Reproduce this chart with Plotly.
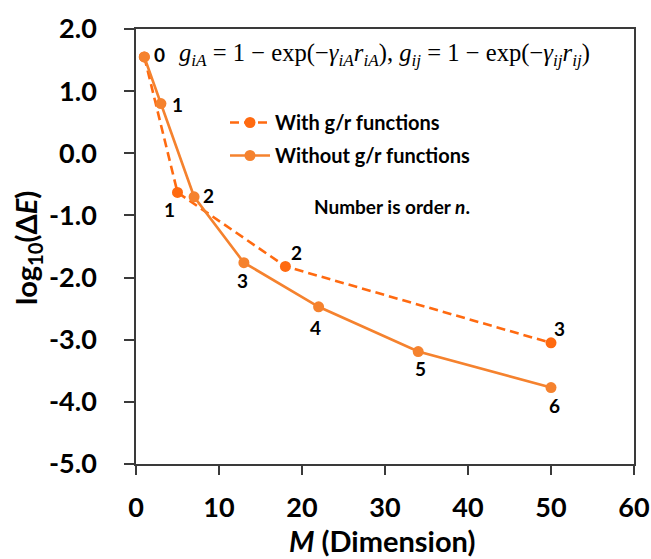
import plotly.graph_objects as go

# ---- data ----
m_with = [1, 5, 18, 50]
log_de_with = [1.55, -0.63, -1.82, -3.05]
order_with = ["0", "1", "2", "3"]

m_without = [1, 3, 7, 13, 22, 34, 50]
log_de_without = [1.55, 0.80, -0.70, -1.76, -2.47, -3.19, -3.77]
order_without = ["0", "1", "2", "3", "4", "5", "6"]

x_ticks = [0, 10, 20, 30, 40, 50, 60]
y_ticks = [2.0, 1.0, 0.0, -1.0, -2.0, -3.0, -4.0, -5.0]

# ---- styles ----
C_WITH = "#FF6A10"
C_WITHOUT = "#F5822E"
FONT = "Lato"
AX = "#3a3a3a"

fig = go.Figure()
fig.add_trace(go.Scatter(
    x=m_with, y=log_de_with, mode="lines+markers", name="With g/r functions",
    legendgroup="a",
    line=dict(color=C_WITH, width=2.6, dash="9px,5px"),
    marker=dict(color=C_WITH, size=11),
))
fig.add_trace(go.Scatter(
    x=m_without, y=log_de_without, mode="lines+markers", name="Without g/r functions",
    legendgroup="b",
    line=dict(color=C_WITHOUT, width=2.6),
    marker=dict(color=C_WITHOUT, size=11),
))

lab_font = dict(family=FONT, size=19, color="black", weight="bold")
ann = []
# offsets (px) for order labels
off_without = [(15, 2), (17, -1), (14, 1), (-1, -18), (-3, -21), (2, -17), (3, -18)]
off_with = [None, (-8, -17), (11, 14), (8, 14)]
for x, y, t, o in zip(m_without, log_de_without, order_without, off_without):
    ann.append(dict(x=x, y=y, xref="x", yref="y", text=t, showarrow=False,
                    xshift=o[0], yshift=o[1], font=lab_font))
for x, y, t, o in zip(m_with, log_de_with, order_with, off_with):
    if o is None:
        continue
    ann.append(dict(x=x, y=y, xref="x", yref="y", text=t, showarrow=False,
                    xshift=o[0], yshift=o[1], font=lab_font))

# plot area in page pixels: x 136..634, y 29..464
W, H = 651, 559
PX0, PX1, PY0, PY1 = 136.0, 634.0, 29.0, 464.0
def px(x):
    return (x - PX0) / (PX1 - PX0)
def py(y):
    return (PY1 - y) / (PY1 - PY0)

formula = ("<i>g</i><sub><i>iA</i></sub> = 1 − exp(−<i>γ</i><sub><i>iA</i></sub><i>r</i><sub><i>iA</i></sub>), "
           "<i>g</i><sub><i>ij</i></sub> = 1 − exp(−<i>γ</i><sub><i>ij</i></sub><i>r</i><sub><i>ij</i></sub>)")
ann.append(dict(x=px(177), y=py(55), xref="paper", yref="paper",
                xanchor="left", yanchor="middle",
                text=formula, showarrow=False,
                font=dict(family="Liberation Serif", size=24.6, color="black")))
ann.append(dict(x=px(312), y=py(207), xref="paper", yref="paper",
                xanchor="left", yanchor="middle",
                text="Number is order <i>n</i>.", showarrow=False,
                font=dict(family=FONT, size=19, color="black", weight="bold")))
# axis titles
ann.append(dict(x=px(381.5), y=py(540), xref="paper", yref="paper",
                xanchor="center", yanchor="middle", text="<i>M</i> (Dimension)", showarrow=False,
                font=dict(family=FONT, size=29, color="black", weight="bold")))
ann.append(dict(x=px(27), y=py(248), xref="paper", yref="paper",
                xanchor="center", yanchor="middle", textangle=-90,
                text="log<sub>10</sub>(Δ<i>E</i>)", showarrow=False,
                font=dict(family=FONT, size=29, color="black", weight="bold")))

fig.update_layout(
    width=W, height=H,
    margin=dict(l=PX0, r=W - PX1, t=PY0, b=H - PY1),
    paper_bgcolor="white", plot_bgcolor="white",
    showlegend=True,
    legend=dict(x=px(225), y=py(103), xanchor="left", yanchor="top",
                bgcolor="rgba(0,0,0,0)",
                font=dict(family=FONT, size=20, color="black", weight="bold"), itemwidth=40,
                tracegroupgap=4),
    annotations=ann,
    font=dict(family=FONT),
)
common = dict(showgrid=False, zeroline=False, showline=True, linecolor=AX, linewidth=1.5,
              mirror=True, ticks="outside", tickwidth=1.5, tickcolor=AX, automargin=False,
              tickfont=dict(family=FONT, size=27, color="black", weight="bold"))
fig.update_xaxes(range=[0, 60], tickvals=x_ticks, ticktext=[str(v) for v in x_ticks],
                 ticklen=9, ticklabelstandoff=10, **common)
fig.update_yaxes(range=[-5, 2], tickvals=y_ticks, ticktext=["%.1f" % v for v in y_ticks],
                 ticklen=10, ticklabelstandoff=22, **common)

fig.write_html("out.html", config={"displayModeBar": False},
               post_script="document.body.style.margin='0';document.body.style.overflow='hidden';")
